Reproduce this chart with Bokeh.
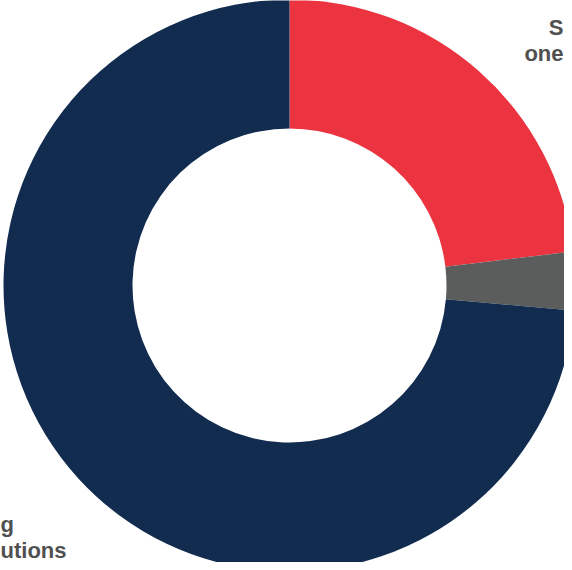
from bokeh.plotting import figure
from bokeh.models import Range1d, ColumnDataSource
from bokeh.core.properties import value
from bokeh.embed import file_html
from bokeh.resources import INLINE
import math

# Data
categories = ["S", "Other", "utions"]
shares = [23.1, 3.3, 73.6]
colors = ["#EC3441", "#5B5D5C", "#122C50"]

# Visible label fragments (the reference is cropped)
label_top = ["S", "one"]
label_bottom = ["g", "utions"]

W, H = 564, 562
p = figure(width=W, height=H, output_backend="svg", toolbar_location=None,
           x_range=Range1d(0, W), y_range=Range1d(-H, 0),
           min_border=0, outline_line_color=None)
p.axis.visible = False
p.grid.visible = False
p.background_fill_color = "white"
p.border_fill_color = "white"

cx, cy = 289, -285
r_in, r_out = 157, 286

total = sum(shares)
starts, ends = [], []
acc = 0.0
for s in shares:
    a0 = math.pi / 2 - 2 * math.pi * acc / total
    acc += s
    a1 = math.pi / 2 - 2 * math.pi * acc / total
    starts.append(a0)
    ends.append(a1)

src = ColumnDataSource(dict(cat=categories, start=starts, end=ends, color=colors))
p.annular_wedge(x=cx, y=cy, inner_radius=r_in, outer_radius=r_out,
                start_angle="start", end_angle="end", direction="clock",
                fill_color="color", line_color=None, source=src)

font = value("Liberation Sans")
p.text(x=[563, 563], y=[-27, -53], text=label_top, text_font=font,
       text_font_size="22px", text_font_style="bold", text_color="#505050",
       text_align="right", text_baseline="alphabetic")
p.text(x=[0, 0], y=[-524, -550], text=label_bottom, text_font=font,
       text_font_size="22px", text_font_style="bold", text_color="#505050",
       text_align="left", text_baseline="alphabetic")

open("out.html", "w").write(file_html(p, INLINE))
